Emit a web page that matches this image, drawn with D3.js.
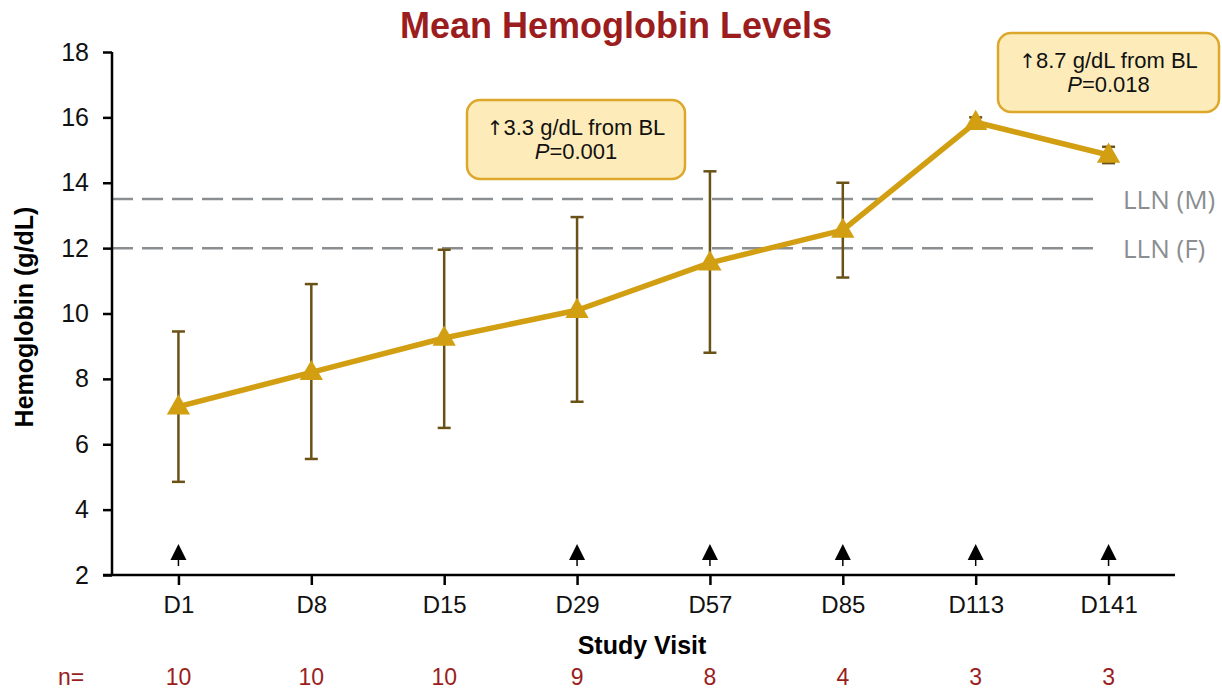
<!DOCTYPE html>
<html>
  <head>
    <meta charset="utf-8">
    <script src="https://d3js.org/d3.v7.min.js"></script>
    <style>
      body { margin: 0; background: #fff; }
      svg { display: block; font-family: "Liberation Sans", Arial, sans-serif; }
    </style>
  </head>
<body>
<script type="text/javascript">
"use strict";

// visits and values
var visits = ["D1", "D8", "D15", "D29", "D57", "D85", "D113", "D141"];
var means  = [7.15, 8.2, 9.25, 10.1, 11.55, 12.55, 15.85, 14.85];
var upper  = [9.45, 10.9, 11.95, 12.95, 14.35, 14.0, 16.0, 15.1];
var lower  = [4.85, 5.55, 6.5, 7.3, 8.8, 11.1, 15.7, 14.6];
var counts = [10, 10, 10, 9, 8, 4, 3, 3];
var dosed  = ["D1", "D29", "D57", "D85", "D113", "D141"];
var yTicks = [2, 4, 6, 8, 10, 12, 14, 16, 18];
var limitLabels = ["LLN (M)", "LLN (F)"];
var limitValues = [13.5, 12];
var noteChanges = ["3.3", "8.7"];
var noteP       = ["0.001", "0.018"];

function draw() {
    var width = 1222, height = 691;
    var left = 112, right = 1175, plotTop = 52, bottom = 575;

    var svg = d3.select("body").append("svg")
        .attr("width", width)
        .attr("height", height);

    var x = d3.scalePoint().domain(visits).range([left, right]).padding(0.5);
    var y = d3.scaleLinear().domain([2, 18]).range([bottom, plotTop]);

    var gold = "#D29E12", brown = "#6A5116", red = "#9B1D1D", grey = "#8B8E91";

    // title
    svg.append("text")
        .attr("x", 616).attr("y", 38)
        .attr("text-anchor", "middle")
        .style("font-size", "36px").style("font-weight", "bold")
        .style("fill", red)
        .text("Mean Hemoglobin Levels");

    // reference lines
    limitValues.forEach(function(v, i) {
        svg.append("line")
            .attr("x1", left).attr("x2", 1100)
            .attr("y1", y(v)).attr("y2", y(v))
            .style("stroke", grey).style("stroke-width", 2.5)
            .style("stroke-dasharray", "21,9");
        svg.append("text")
            .attr("x", 1123).attr("y", y(v) + 10)
            .style("font-family", "'Open Sans', sans-serif")
            .style("font-size", "26px").style("fill", grey)
            .text(limitLabels[i]);
    });

    // axes
    var yAxis = svg.append("g")
        .attr("transform", "translate(" + left + ",0)")
        .call(d3.axisLeft(y).tickValues(yTicks).tickSize(9).tickPadding(14));
    var xAxis = svg.append("g")
        .attr("transform", "translate(0," + bottom + ")")
        .call(d3.axisBottom(x).tickSize(10));
    [yAxis, xAxis].forEach(function(g) {
        g.select(".domain").attr("stroke", "#000").attr("stroke-width", 2.5);
        g.selectAll(".tick line").attr("stroke", "#000").attr("stroke-width", 2.5);
        g.selectAll(".tick text").style("font-size", "25px").style("fill", "#111")
            .style("font-family", "'Liberation Sans', Arial, sans-serif");
    });
    yAxis.select(".domain").attr("d", "M0," + plotTop + "V" + bottom);
    xAxis.select(".domain").attr("d", "M" + (left - 9) + ",0H" + right);
    xAxis.selectAll(".tick text").style("font-size", "24px").attr("y", 38).attr("dy", 0);

    // axis titles
    svg.append("text")
        .attr("transform", "translate(33,317) rotate(-90)")
        .attr("text-anchor", "middle")
        .style("font-size", "25px").style("font-weight", "bold")
        .text("Hemoglobin (g/dL)");
    svg.append("text")
        .attr("x", 642).attr("y", 654)
        .attr("text-anchor", "middle")
        .style("font-size", "25px").style("font-weight", "bold")
        .text("Study Visit");

    // n row
    svg.append("text")
        .attr("x", 71).attr("y", 685)
        .attr("text-anchor", "middle")
        .style("font-size", "23px").style("fill", red)
        .text("n=");
    svg.selectAll(".count")
        .data(counts)
        .enter().append("text")
        .attr("x", function(d, i) { return x(visits[i]); })
        .attr("y", 685)
        .attr("text-anchor", "middle")
        .style("font-size", "23px").style("fill", red)
        .text(function(d) { return d; });

    // dosing arrows
    var arrows = svg.selectAll(".arrow")
        .data(dosed)
        .enter().append("g")
        .attr("transform", function(d) { return "translate(" + x(d) + "," + (bottom - 9) + ")"; });
    arrows.append("line")
        .attr("y1", 0).attr("y2", -12)
        .style("stroke", "#000").style("stroke-width", 1.5);
    arrows.append("path")
        .attr("d", "M-8,-6L0,-22L8,-6Z")
        .style("fill", "#000");

    // error bars
    visits.forEach(function(v, i) {
        var cx = x(v);
        svg.append("line")
            .attr("x1", cx).attr("x2", cx)
            .attr("y1", y(upper[i])).attr("y2", y(lower[i]))
            .style("stroke", brown).style("stroke-width", 2.5);
        [upper[i], lower[i]].forEach(function(val) {
            svg.append("line")
                .attr("x1", cx - 6.5).attr("x2", cx + 6.5)
                .attr("y1", y(val)).attr("y2", y(val))
                .style("stroke", brown).style("stroke-width", 2.5);
        });
    });

    // mean line
    var line = d3.line()
        .x(function(d, i) { return x(visits[i]); })
        .y(function(d) { return y(d); });
    svg.append("path")
        .datum(means)
        .attr("d", line)
        .style("fill", "none")
        .style("stroke", gold).style("stroke-width", 5.5)
        .style("stroke-linejoin", "round");

    svg.selectAll(".marker")
        .data(means)
        .enter().append("path")
        .attr("d", d3.symbol().type(d3.symbolTriangle).size(235))
        .attr("transform", function(d, i) { return "translate(" + x(visits[i]) + "," + (y(d) + 1) + ")"; })
        .style("fill", gold);

    // annotation boxes
    var boxes = [
        { cx: 576, cy: 139.5, w: 218, h: 79 },
        { cx: 1108.5, cy: 72.5, w: 221, h: 79 }
    ];
    boxes.forEach(function(b, i) {
        svg.append("rect")
            .attr("x", b.cx - b.w / 2).attr("y", b.cy - b.h / 2)
            .attr("width", b.w).attr("height", b.h)
            .attr("rx", 13)
            .style("fill", "#FDECB9")
            .style("stroke", "#DCA72A").style("stroke-width", 2.5);
        var t1 = svg.append("text")
            .attr("x", b.cx).attr("y", b.cy - 5)
            .attr("text-anchor", "middle")
            .style("font-size", "22px").style("fill", "#111");
        t1.append("tspan")
            .style("font-family", "'DejaVu Sans', sans-serif")
            .style("font-size", "20px").style("fill", "#111")
            .text("\u2191");
        t1.append("tspan").text(noteChanges[i] + " g/dL  from BL");
        var t2 = svg.append("text")
            .attr("x", b.cx).attr("y", b.cy + 19)
            .attr("text-anchor", "middle")
            .style("font-size", "22px").style("fill", "#111");
        t2.append("tspan").style("font-style", "italic").text("P");
        t2.append("tspan").text("=" + noteP[i]);
    });
}

draw();
</script>
</body>
</html>
